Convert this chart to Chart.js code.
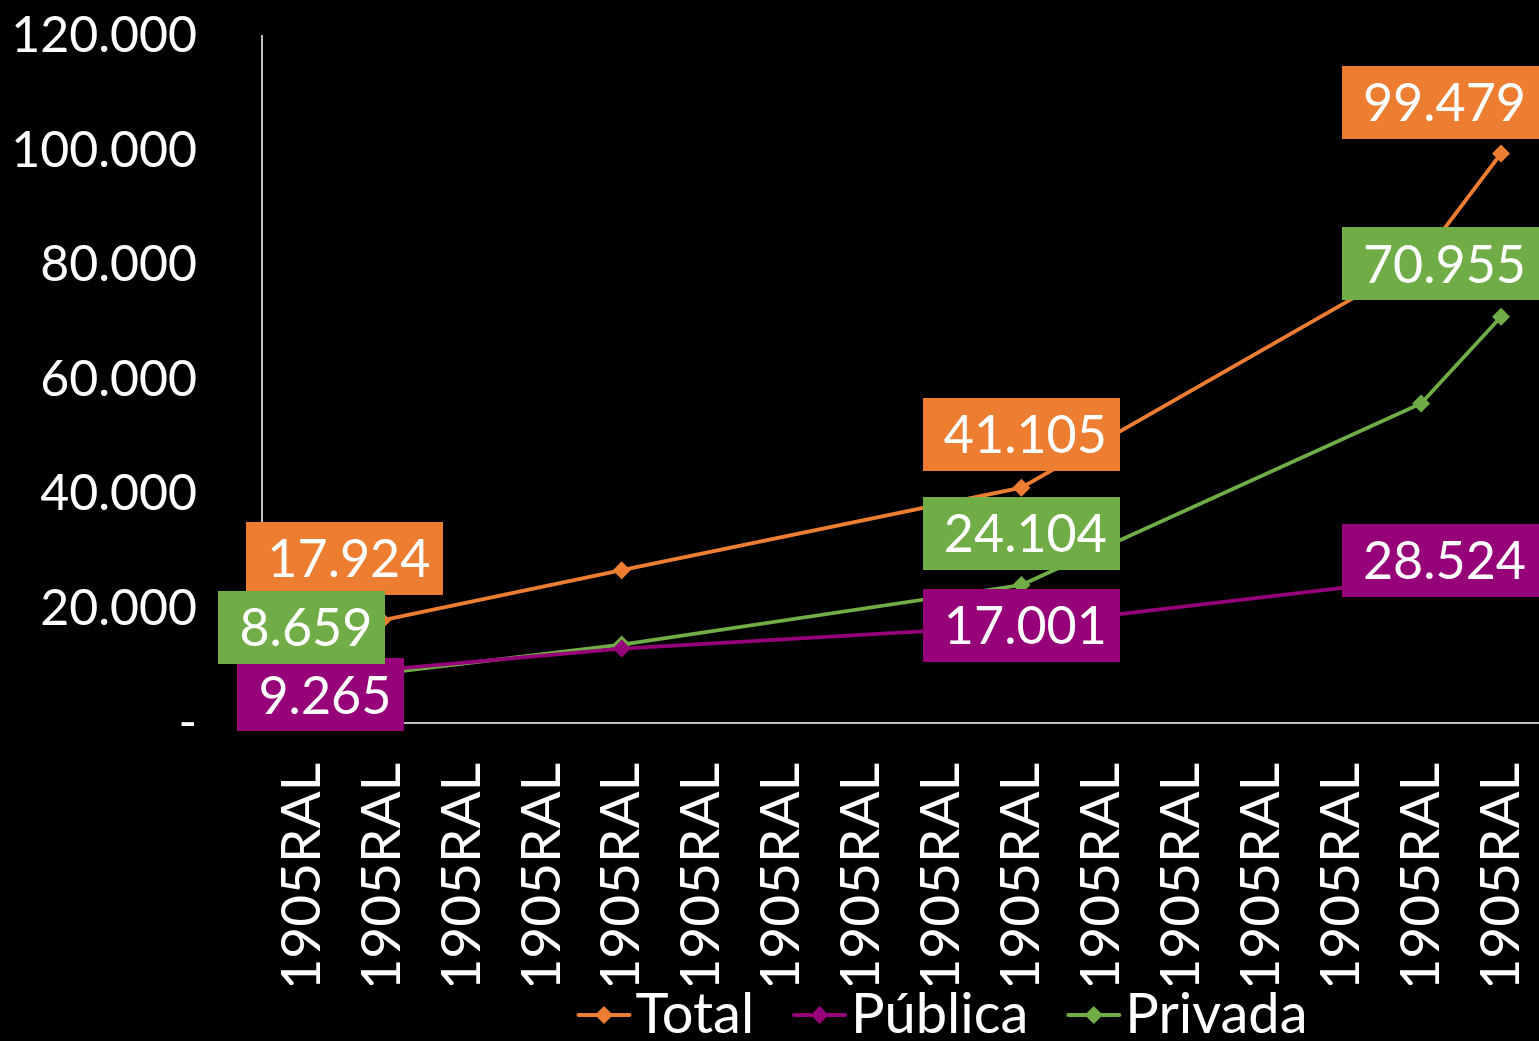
<!DOCTYPE html>
<html>
<head>
<meta charset="utf-8">
<script src="https://cdn.jsdelivr.net/npm/chart.js@4"></script>
<style>
html,body{margin:0;padding:0;background:#000;overflow:hidden;}
#wrap{width:1539px;height:1041px;overflow:hidden;}
</style>
</head>
<body>
<div id="wrap"><canvas id="c" width="1550" height="1041"></canvas></div>
<script>
const categories = ["1905RAL","1905RAL","1905RAL","1905RAL","1905RAL","1905RAL","1905RAL","1905RAL","1905RAL","1905RAL","1905RAL","1905RAL","1905RAL","1905RAL","1905RAL","1905RAL"];
const totalValues   = [null, 17924, null, null, 26700, null, null, null, null, 41105, null, null, null, null, 81000, 99479];
const publicaValues = [null,  9265, null, null, 13000, null, null, null, null, 17001, null, null, null, null, 25200, 28524];
const privadaValues = [null,  8659, null, null, 13700, null, null, null, null, 24104, null, null, null, null, 55800, 70955];
const seriesNames = ["Total", "Pública", "Privada"];
const labeledIndices = [1, 9, 15];
const yTicks = [0, 20000, 40000, 60000, 80000, 100000, 120000];

const COLORS = ["#ED7D31", "#960078", "#70AD47"];
const FONT = "Lato, 'DejaVu Sans', sans-serif";
const VIEW_W = 1539;

// label box offsets (dx, dy) relative to the point, per series, per labeled index
const labelOffsets = [
  {1: [-37, -62], 9: [0, -53], 15: [0, -51]},
  {1: [-61, 25], 9: [0, 0], 15: [0, 1]},
  {1: [-80, -46], 9: [0, -52], 15: [0, -53]}
];

function fmt(v){
  return v.toString().replace(/\B(?=(\d{3})+(?!\d))/g, ".");
}

const dataLabelPlugin = {
  id: 'dataLabels',
  afterDatasetsDraw(chart){
    const ctx = chart.ctx;
    ctx.save();
    ctx.font = "52px " + FONT;
    ctx.textAlign = "center";
    ctx.textBaseline = "middle";
    chart.data.datasets.forEach((ds, di) => {
      const meta = chart.getDatasetMeta(di);
      labeledIndices.forEach(i => {
        const v = ds.data[i];
        if (v == null) return;
        const pt = meta.data[i];
        const off = labelOffsets[di][i] || [0, -52];
        const text = fmt(v);
        const w = ctx.measureText(text).width + 34;
        const h = 73;
        let cx = pt.x + off[0];
        const cy = pt.y + off[1];
        if (cx + w/2 > VIEW_W) cx = VIEW_W - w/2;
        ctx.fillStyle = COLORS[di];
        ctx.fillRect(Math.round(cx - w/2), Math.round(cy - h/2), Math.round(w), h);
        ctx.fillStyle = "#FFFFFF";
        ctx.fillText(text, cx + 4, cy + 2);
      });
    });
    ctx.restore();
  }
};

const legendPlugin = {
  id: 'customLegend',
  afterDraw(chart){
    const ctx = chart.ctx;
    ctx.save();
    ctx.font = "56px " + FONT;
    ctx.textBaseline = "middle";
    const lineW = 55, gapT = 4, gapI = 38;
    const widths = seriesNames.map(n => lineW + gapT + ctx.measureText(n).width);
    const total = widths.reduce((a,b)=>a+b,0) + gapI*(seriesNames.length-1);
    let x = 942 - total/2;
    const y = 1015;
    seriesNames.forEach((n, i) => {
      ctx.strokeStyle = COLORS[i];
      ctx.lineWidth = 4;
      ctx.lineCap = "round";
      ctx.beginPath();
      ctx.moveTo(x + 2, y);
      ctx.lineTo(x + lineW - 2, y);
      ctx.stroke();
      ctx.fillStyle = COLORS[i];
      ctx.beginPath();
      const mx = x + lineW/2;
      ctx.moveTo(mx, y - 9); ctx.lineTo(mx + 9, y); ctx.lineTo(mx, y + 9); ctx.lineTo(mx - 9, y);
      ctx.closePath();
      ctx.fill();
      ctx.fillStyle = "#FFFFFF";
      ctx.fillText(n, x + lineW + gapT, y);
      x += widths[i] + gapI;
    });
    ctx.restore();
  }
};

const bgPlugin = {
  id: 'bg',
  beforeDraw(chart){
    const ctx = chart.ctx;
    ctx.save();
    ctx.fillStyle = "#000";
    ctx.fillRect(0, 0, chart.width, chart.height);
    ctx.restore();
  }
};

function mkDataset(label, data, color){
  return {
    label, data,
    borderColor: color,
    backgroundColor: color,
    borderWidth: 3.8,
    pointStyle: 'rectRot',
    pointRadius: 9,
    pointBorderWidth: 0,
    pointBackgroundColor: color,
    spanGaps: true,
    tension: 0,
    clip: false
  };
}

new Chart(document.getElementById('c'), {
  type: 'line',
  data: {
    labels: categories,
    datasets: [
      mkDataset(seriesNames[0], totalValues, COLORS[0]),
      mkDataset(seriesNames[1], publicaValues, COLORS[1]),
      mkDataset(seriesNames[2], privadaValues, COLORS[2])
    ]
  },
  options: {
    responsive: false,
    devicePixelRatio: 1,
    animation: false,
    layout: { padding: { top: 36, right: 0, left: 0, bottom: 56 } },
    plugins: { legend: { display: false }, tooltip: { enabled: false } },
    scales: {
      x: {
        offset: true,
        grid: { display: false, drawTicks: false },
        border: { display: true, color: "#BFBFBF", width: 2 },
        ticks: {
          color: "#FFFFFF",
          font: { family: FONT, size: 55 },
          minRotation: 90, maxRotation: 90,
          autoSkip: false,
          padding: 40
        },
        afterFit(s){ s.height = 262; s.paddingLeft = 0; s.paddingRight = 0; s.paddingTop = 0; s.paddingBottom = 0; }
      },
      y: {
        min: 0, max: 120000,
        afterBuildTicks(s){ s.ticks = yTicks.map(v => ({value: v})); },
        grid: { display: false, drawTicks: false },
        border: { display: true, color: "#BFBFBF", width: 2 },
        ticks: {
          color: "#FFFFFF",
          font: { family: FONT, size: 50 },
          padding: 65,
          callback: v => v === 0 ? "-" : fmt(v)
        },
        afterFit(s){ s.width = 262; s.paddingTop = 0; s.paddingBottom = 0; s.paddingLeft = 0; s.paddingRight = 0; }
      }
    }
  },
  plugins: [bgPlugin, dataLabelPlugin, legendPlugin]
});
</script>
</body>
</html>
